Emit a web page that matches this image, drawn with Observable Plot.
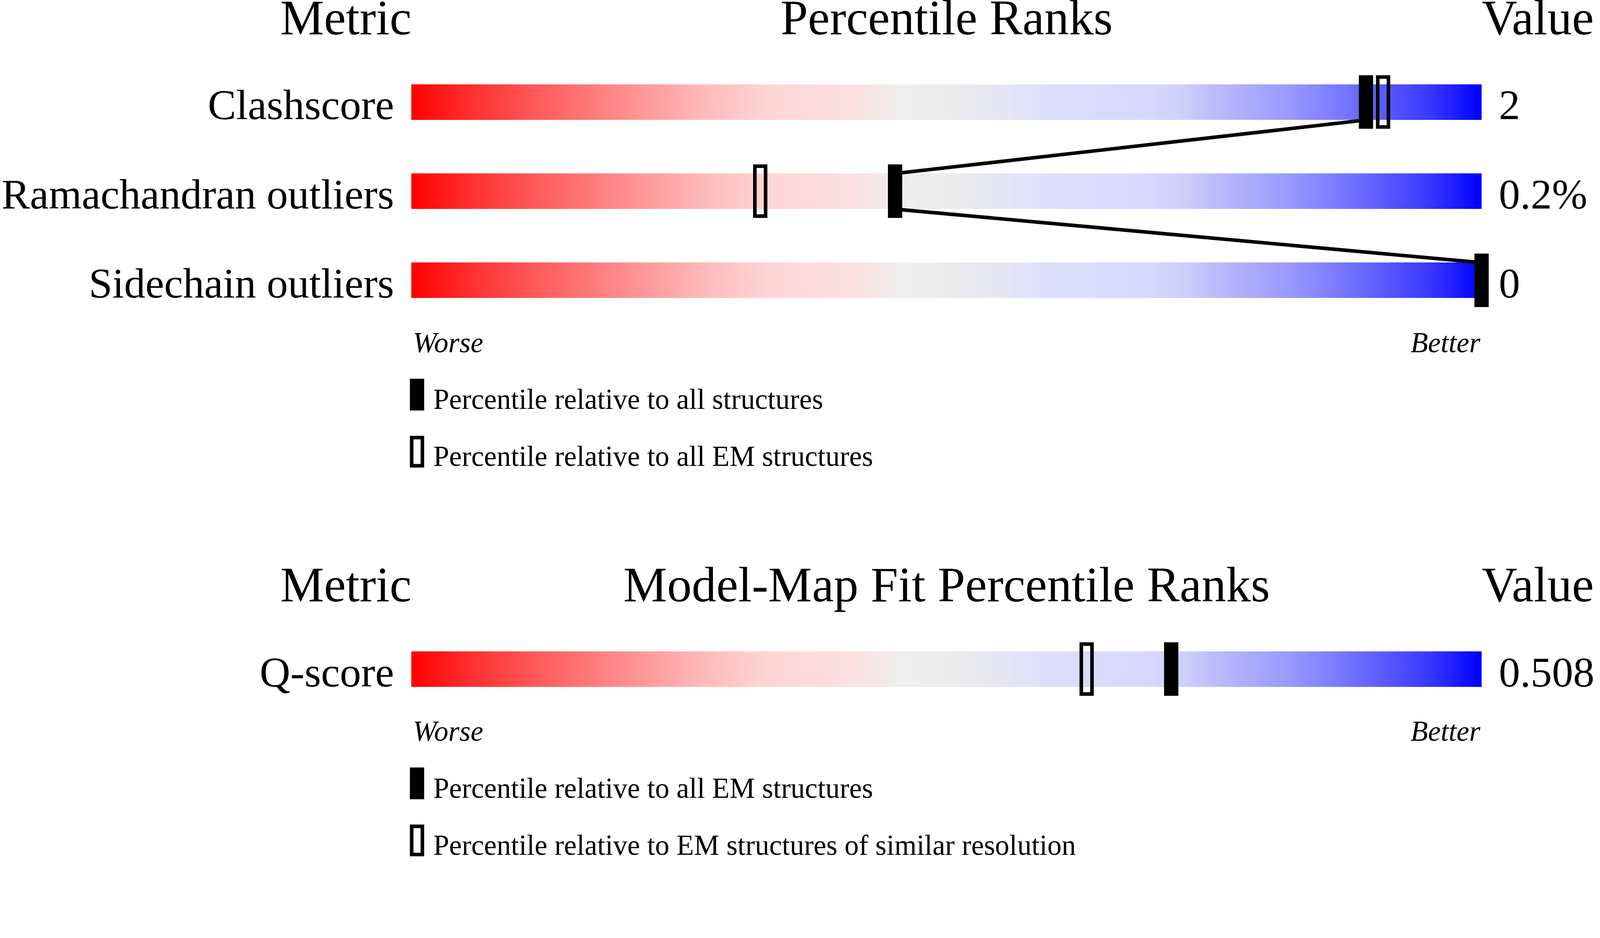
<!DOCTYPE html>
<html>
<head>
<meta charset="utf-8">
<script src="https://cdn.jsdelivr.net/npm/d3@7"></script>
<script src="https://cdn.jsdelivr.net/npm/@observablehq/plot@0.6"></script>
<style>
  html, body { margin: 0; padding: 0; background: #ffffff; overflow: hidden; }
  #chart svg { display: block; width: 100vw; height: 100vh; max-width: none; }
</style>
</head>
<body>
<div id="chart"></div>
<script>
// ---------------- data ----------------
const panelTitles = ["Percentile Ranks", "Model-Map Fit Percentile Ranks"];
const metricHeader = "Metric";
const valueHeader = "Value";
const scaleEnds = ["Worse", "Better"];

const metricsPanel1 = ["Clashscore", "Ramachandran outliers", "Sidechain outliers"];
const valuesPanel1 = ["2", "0.2%", "0"];
const pctFilledPanel1 = [89.2, 45.2, 100];   // percentile relative to all structures
const pctOpenPanel1 = [90.8, 32.6, null];    // percentile relative to all EM structures
const legendPanel1 = ["Percentile relative to all structures", "Percentile relative to all EM structures"];

const metricsPanel2 = ["Q-score"];
const valuesPanel2 = ["0.508"];
const pctFilledPanel2 = [71.0];              // percentile relative to all EM structures
const pctOpenPanel2 = [63.1];                // percentile relative to EM structures of similar resolution
const legendPanel2 = ["Percentile relative to all EM structures", "Percentile relative to EM structures of similar resolution"];

// ---------------- layout / style ----------------
const W = 4485, H = 2402;
const BAR_LEFT = 1153, BAR_RIGHT = 4153;
const PITCH = 250;          // px per row unit
const FIRST_ROW_PX = 286;   // centre of first bar
const panelStart = [0, 6.36]; // row units
const HALF = 0.2;           // half bar height in row units
const FONT = "'Liberation Serif', 'Times New Roman', Times, serif";

const gradStops = [
  [0.00, "#ff0000"], [0.06, "#ff3333"], [0.12, "#ff5c5c"], [0.19, "#ff8888"],
  [0.27, "#ffb8b8"], [0.33, "#ffd4d4"], [0.41, "#fde0e0"], [0.46, "#eeeeee"],
  [0.50, "#ececec"], [0.55, "#e6e6f4"], [0.60, "#ddddfd"], [0.68, "#d8d8ff"],
  [0.72, "#d0d0fc"], [0.75, "#bcbcfc"], [0.82, "#9999ff"], [0.88, "#7070ff"],
  [0.95, "#3a3aff"], [1.00, "#0000ff"]
];
function gradColor(t) {
  for (let k = 1; k < gradStops.length; k++) {
    const [p1, c1] = gradStops[k];
    const [p0, c0] = gradStops[k - 1];
    if (t <= p1) return d3.interpolateRgb(c0, c1)((t - p0) / (p1 - p0));
  }
  return gradStops[gradStops.length - 1][1];
}

// ---------------- derived tables ----------------
const panels = [
  {metrics: metricsPanel1, values: valuesPanel1, filled: pctFilledPanel1, open: pctOpenPanel1, legend: legendPanel1},
  {metrics: metricsPanel2, values: valuesPanel2, filled: pctFilledPanel2, open: pctOpenPanel2, legend: legendPanel2}
];
const rows = panels.flatMap((P, p) => P.metrics.map((m, i) => ({
  panel: p, metric: m, value: P.values[i], filled: P.filled[i], open: P.open[i], row: panelStart[p] + i
})));
const lastRow = panels.map((P, p) => panelStart[p] + P.metrics.length - 1);

const N = 300;
const cells = rows.flatMap(r => d3.range(N).map(k => ({
  row: r.row, x1: k * 100 / N, x2: (k + 1) * 100 / N, color: gradColor((k + 0.5) / N)
})));

const links = [];
panels.forEach((P, p) => {
  const rs = rows.filter(r => r.panel === p);
  for (let i = 0; i + 1 < rs.length; i++) {
    links.push({x1: rs[i].filled, y1: rs[i].row + HALF, x2: rs[i + 1].filled, y2: rs[i + 1].row - HALF});
  }
});

const headers = panelTitles.map((t, p) => ({title: t, y: panelStart[p] - 0.76}));
const endsY = lastRow.map(r => ({y: r + 0.804}));
const legendItems = panels.flatMap((P, p) => P.legend.map((text, j) => ({text, kind: j, base: lastRow[p] + j * 0.64})));

// ---------------- chart ----------------
const chart = Plot.plot({
  width: W,
  height: H,
  margin: 0,
  style: {fontFamily: FONT, background: "#ffffff", color: "#000000"},
  x: {domain: [0, 100], range: [BAR_LEFT, BAR_RIGHT], axis: null},
  y: {domain: [-FIRST_ROW_PX / PITCH, (H - FIRST_ROW_PX) / PITCH], range: [0, H], axis: null},
  color: {type: "identity"},
  marks: [
    // gradient bars
    Plot.rect(cells, {x1: "x1", x2: "x2", y1: d => d.row - HALF, y2: d => d.row + HALF, fill: "color", shapeRendering: "crispEdges"}),
    // connecting lines
    Plot.link(links, {x1: "x1", y1: "y1", x2: "x2", y2: "y2", stroke: "#000000", strokeWidth: 10}),
    // open markers
    Plot.rect(rows.filter(r => r.open != null), {
      x1: "open", x2: "open", y1: d => d.row - HALF, y2: d => d.row + HALF,
      insetLeft: -15, insetRight: -15, insetTop: -20, insetBottom: -20,
      fill: "none", stroke: "#000000", strokeWidth: 10
    }),
    // filled markers
    Plot.rect(rows, {
      x1: "filled", x2: "filled", y1: d => d.row - HALF, y2: d => d.row + HALF,
      insetLeft: -20, insetRight: -20, insetTop: -25, insetBottom: -25,
      fill: "#000000"
    }),
    // headers
    Plot.text(headers, {x: () => 0, y: "y", text: () => metricHeader, textAnchor: "end", lineAnchor: "bottom", fontSize: 138, fill: "#000000"}),
    Plot.text(headers, {x: () => 50, y: "y", text: "title", textAnchor: "middle", lineAnchor: "bottom", fontSize: 138, fill: "#000000"}),
    Plot.text(headers, {x: () => 100, y: "y", text: () => valueHeader, textAnchor: "start", lineAnchor: "bottom", fontSize: 138, fill: "#000000"}),
    // metric labels and values
    Plot.text(rows, {x: () => 0, y: d => d.row + 0.192, text: "metric", textAnchor: "end", lineAnchor: "bottom", dx: -49, fontSize: 119, fill: "#000000"}),
    Plot.text(rows, {x: () => 100, y: d => d.row + 0.192, text: "value", textAnchor: "start", lineAnchor: "bottom", dx: 48, fontSize: 119, fill: "#000000"}),
    // Worse / Better
    Plot.text(endsY, {x: () => 0, y: "y", text: () => scaleEnds[0], textAnchor: "start", lineAnchor: "bottom", dx: 4, fontSize: 80, fontStyle: "italic", fill: "#000000"}),
    Plot.text(endsY, {x: () => 100, y: "y", text: () => scaleEnds[1], textAnchor: "end", lineAnchor: "bottom", dx: -4, fontSize: 80, fontStyle: "italic", fill: "#000000"}),
    // legend swatches
    Plot.rect(legendItems.filter(d => d.kind === 0), {
      x1: () => 0, x2: () => 0, y1: d => d.base + 1.104, y2: d => d.base + 1.46,
      insetLeft: -4, insetRight: -36, fill: "#000000"
    }),
    Plot.rect(legendItems.filter(d => d.kind === 1), {
      x1: () => 0, x2: () => 0, y1: d => d.base + 1.124, y2: d => d.base + 1.44,
      insetLeft: 1, insetRight: -31, fill: "none", stroke: "#000000", strokeWidth: 10
    }),
    Plot.text(legendItems, {x: () => 0, y: d => d.base + 1.44, text: "text", textAnchor: "start", lineAnchor: "bottom", dx: 61, fontSize: 80, fill: "#000000"})
  ]
});
chart.setAttribute("preserveAspectRatio", "xMinYMin meet");
document.getElementById("chart").appendChild(chart);
</script>
</body>
</html>
